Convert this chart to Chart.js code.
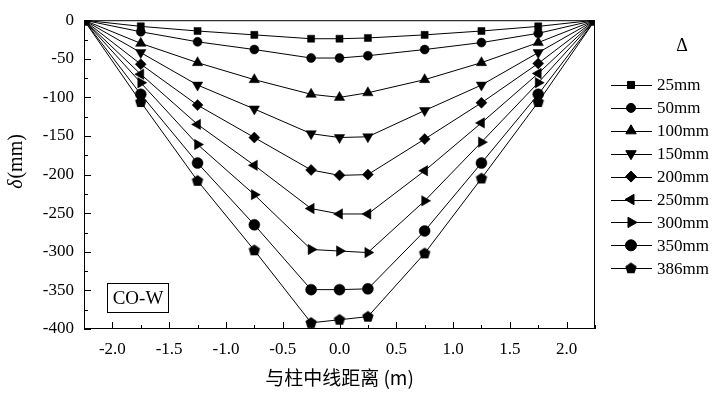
<!DOCTYPE html>
<html>
<head>
<meta charset="utf-8">
<script src="https://cdn.jsdelivr.net/npm/chart.js@4/dist/chart.umd.min.js"></script>
<style>
  html, body { margin: 0; padding: 0; background: #fff; }
  #wrap { width: 715px; height: 393px; }
</style>
</head>
<body>
<div id="wrap"><canvas id="grafico" width="715" height="393"></canvas></div>
<script>
// distancia ao eixo do pilar (m)
const posicoes = [-2.25, -1.75, -1.25, -0.75, -0.25, 0, 0.25, 0.75, 1.25, 1.75, 2.25];

const rotulos = ["25mm", "50mm", "100mm", "150mm", "200mm", "250mm", "300mm", "350mm", "386mm"];
const d25  = [0,   -8,  -14,  -19,  -24,  -24,  -23,  -19,  -14,   -8, 0];
const d50  = [0,  -15,  -28,  -38,  -49,  -49,  -46,  -38,  -29,  -17, 0];
const d100 = [0,  -30,  -55,  -77,  -96, -100,  -94,  -77,  -55,  -29, 0];
const d150 = [0,  -42,  -84, -115, -147, -152, -151, -117,  -84,  -42, 0];
const d200 = [0,  -57, -110, -152, -194, -201, -200, -154, -107,  -56, 0];
const d250 = [0,  -70, -135, -188, -244, -251, -251, -195, -133,  -69, 0];
const d300 = [0,  -81, -161, -226, -297, -299, -301, -234, -158,  -81, 0];
const d350 = [0,  -96, -185, -265, -349, -349, -348, -273, -185,  -96, 0];
const d386 = [0, -106, -208, -298, -392, -388, -384, -302, -205, -106, 0];

const ticksX = [-2.0, -1.5, -1.0, -0.5, 0.0, 0.5, 1.0, 1.5, 2.0];

const serie = [d25, d50, d100, d150, d200, d250, d300, d350, d386];

// pentagono (nao existe no Chart.js)
function fazPentagono(r) {
    const c = document.createElement("canvas");
    c.width = r * 2 + 2;
    c.height = r * 2 + 2;
    const ctx = c.getContext("2d");
    ctx.fillStyle = "#000";
    ctx.beginPath();
    for (let i = 0; i < 5; i++) {
        const a = -Math.PI / 2 + i * 2 * Math.PI / 5;
        const px = r + 1 + r * Math.cos(a);
        const py = r + 1 + 0.2 + r * Math.sin(a);
        if (i === 0) ctx.moveTo(px, py); else ctx.lineTo(px, py);
    }
    ctx.closePath();
    ctx.fill();
    return c;
}

const marcadores = [
    { estilo: "rect", raio: 5, rot: 0 },
    { estilo: "circle", raio: 4.5, rot: 0 },
    { estilo: "triangle", raio: 6, rot: 0 },
    { estilo: "triangle", raio: 6, rot: 180 },
    { estilo: "rectRot", raio: 5.5, rot: 0 },
    { estilo: "triangle", raio: 6, rot: -90 },
    { estilo: "triangle", raio: 6, rot: 90 },
    { estilo: "circle", raio: 5.5, rot: 0 },
    { estilo: fazPentagono(6), raio: 6, rot: 0 }
];

const datasets = serie.map((valores, i) => ({
    label: rotulos[i],
    data: valores.map((v, j) => ({ x: posicoes[j], y: v })),
    showLine: true,
    borderColor: "#000",
    borderWidth: 1,
    backgroundColor: "#000",
    pointStyle: marcadores[i].estilo,
    pointRadius: marcadores[i].raio,
    pointRotation: marcadores[i].rot,
    pointBorderWidth: 0.5,
    pointBorderColor: "#000",
    pointBackgroundColor: "#000",
    clip: 0
}));

const fonte = "Liberation Serif";

function desenhaPonto(ctx, m, x, y) {
    if (Chart.helpers && Chart.helpers.drawPoint) {
        Chart.helpers.drawPoint(ctx, { pointStyle: m.estilo, rotation: m.rot, radius: m.raio, borderWidth: 0.5 }, x, y);
    }
}

const moldura = {
    id: "moldura",
    afterDraw(chart) {
        const ctx = chart.ctx;
        const a = chart.chartArea;
        const sx = chart.scales.x;
        const sy = chart.scales.y;
        ctx.save();
        ctx.strokeStyle = "#000";
        ctx.lineWidth = 1;
        ctx.strokeRect(a.left + 0.5, a.top + 0.5, a.right - a.left - 1, a.bottom - a.top - 1);

        // ticks para dentro
        ctx.beginPath();
        for (let v = -2.25; v <= 2.25001; v += 0.25) {
            const px = Math.round(sx.getPixelForValue(v)) + 0.5;
            const maior = Math.abs(v * 2 - Math.round(v * 2)) < 1e-6;
            ctx.moveTo(px, a.bottom);
            ctx.lineTo(px, a.bottom - (maior ? 7 : 4));
        }
        for (let v = -400; v <= 0; v += 25) {
            const py = Math.round(sy.getPixelForValue(v)) + 0.5;
            const maior = v % 50 === 0;
            ctx.moveTo(a.left, py);
            ctx.lineTo(a.left + (maior ? 7 : 4), py);
        }
        ctx.stroke();

        // caixa CO-W
        ctx.lineWidth = 1;
        ctx.strokeRect(107.5, 283.5, 61, 29);
        ctx.fillStyle = "#000";
        ctx.font = "19px '" + fonte + "'";
        ctx.textAlign = "center";
        ctx.textBaseline = "middle";
        ctx.fillText("CO-W", 138, 299);

        // titulo eixo y
        ctx.save();
        ctx.translate(17, 162);
        ctx.rotate(-Math.PI / 2);
        ctx.textAlign = "left";
        ctx.font = "italic 20px '" + fonte + "'";
        const w1 = ctx.measureText("δ").width;
        ctx.font = "20px '" + fonte + "'";
        const w2 = ctx.measureText("(mm)").width;
        const x0 = -(w1 + w2) / 2;
        ctx.font = "italic 20px '" + fonte + "'";
        ctx.fillText("δ", x0, 0);
        ctx.font = "20px '" + fonte + "'";
        ctx.fillText("(mm)", x0 + w1 + 1, 0);
        ctx.restore();

        // legenda
        ctx.font = "18px '" + fonte + "'";
        ctx.textAlign = "center";
        ctx.fillText("Δ", 682, 46);
        ctx.font = "17px '" + fonte + "'";
        ctx.textAlign = "left";
        rotulos.forEach((r, i) => {
            const y = 85 + i * 22.9;
            ctx.strokeStyle = "#000";
            ctx.beginPath();
            ctx.moveTo(611, Math.round(y) + 0.5);
            ctx.lineTo(652, Math.round(y) + 0.5);
            ctx.stroke();
            ctx.fillStyle = "#000";
            ctx.strokeStyle = "#000";
            desenhaPonto(ctx, marcadores[i], 631, y);
            ctx.fillStyle = "#000";
            ctx.fillText(r, 657, y + 1);
        });
        ctx.restore();
    }
};

const grafico = new Chart(document.querySelector("#grafico"), {
    type: "scatter",
    data: { datasets: datasets },
    options: {
        responsive: false,
        animation: false,
        layout: { padding: { left: 0, top: 17, right: 120, bottom: 0 } },
        plugins: {
            legend: { display: false },
            tooltip: { enabled: false }
        },
        scales: {
            x: {
                type: "linear",
                min: -2.25,
                max: 2.25,
                afterBuildTicks: (s) => { s.ticks = ticksX.map(v => ({ value: v })); },
                afterFit: (s) => { s.height = 64; },
                grid: { display: false, drawTicks: false },
                border: { display: false },
                ticks: {
                    color: "#000",
                    padding: 10,
                    maxRotation: 0,
                    font: { family: fonte, size: 17 },
                    callback: (v) => Number(v).toFixed(1)
                },
                title: {
                    display: true,
                    text: "与柱中线距离 (m)",
                    color: "#000",
                    font: { family: "Noto Sans CJK SC", size: 19 },
                    padding: { top: 8 }
                }
            },
            y: {
                type: "linear",
                min: -400,
                max: 0,
                afterFit: (s) => { s.width = 84; },
                grid: { display: false, drawTicks: false },
                border: { display: false },
                ticks: {
                    stepSize: 50,
                    color: "#000",
                    padding: 10,
                    font: { family: fonte, size: 17 }
                }
            }
        }
    },
    plugins: [moldura]
});
</script>
</body>
</html>
